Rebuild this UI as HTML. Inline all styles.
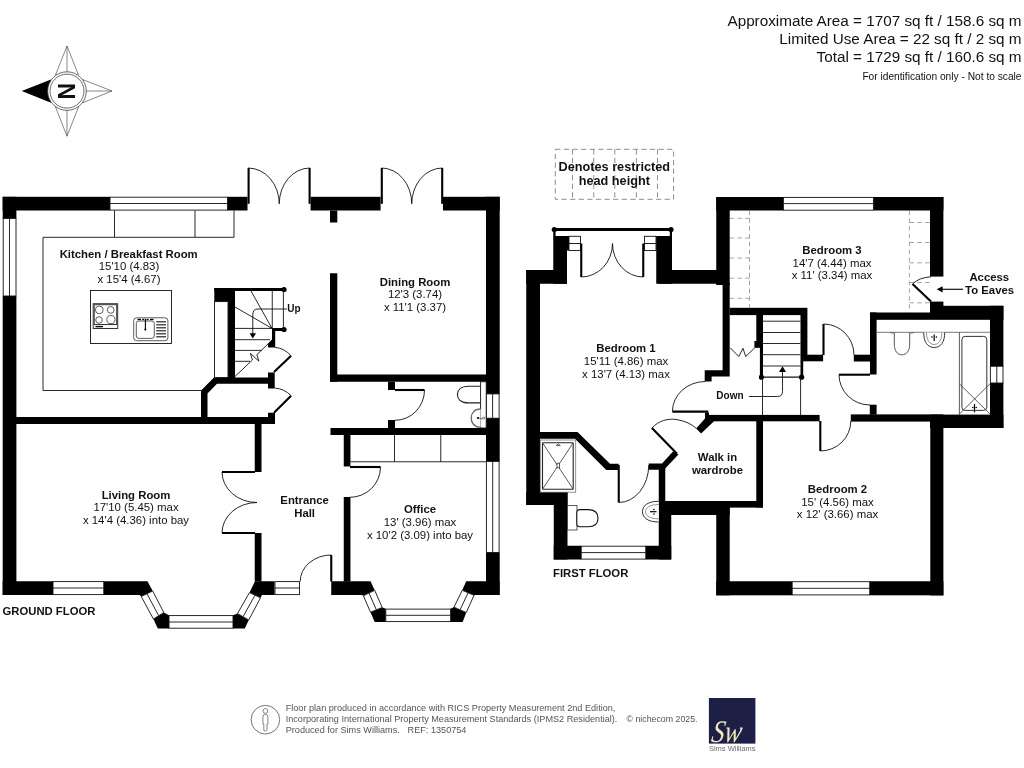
<!DOCTYPE html>
<html lang="en">
<head>
<meta charset="utf-8">
<title>Floor plan</title>
<style>
html,body{margin:0;padding:0;background:#fff;}
body{width:1024px;height:768px;overflow:hidden;position:relative;font-family:"Liberation Sans",sans-serif;}
svg{position:absolute;left:0;top:0;display:block;will-change:transform;}
svg text{font-family:"Liberation Sans",sans-serif;fill:#111;}
.w{fill:#000;stroke:none;}
.t{fill:none;stroke:#111;stroke-width:0.9;}
.tw{fill:#fff;stroke:#111;stroke-width:0.9;}
.lf{fill:none;stroke:#000;stroke-width:2.1;}
.d{fill:none;stroke:#808080;stroke-width:0.9;stroke-dasharray:5.2 3.4;}
.fx{fill:#fff;stroke:#333;stroke-width:0.8;}
.fn{fill:none;stroke:#333;stroke-width:0.8;}
.b{font-weight:bold;font-size:11.35px;text-anchor:middle;}
.r{font-size:11.42px;text-anchor:middle;fill:#111;}
</style>
</head>
<body>
<svg width="1024" height="768" viewBox="0 0 1024 768">
<rect x="0" y="0" width="1024" height="768" fill="#fff"/>

<!-- HEADER -->
<g id="header" font-size="15.27" text-anchor="end">
<text x="1021.5" y="25.6">Approximate Area = 1707 sq ft / 158.6 sq m</text>
<text x="1021.5" y="43.7">Limited Use Area = 22 sq ft / 2 sq m</text>
<text x="1021.5" y="61.6">Total = 1729 sq ft / 160.6 sq m</text>
<text x="1021.5" y="79.8" font-size="10.2">For identification only - Not to scale</text>
</g>

<!-- COMPASS -->
<g id="compass">
<g fill="#fff" stroke="#555" stroke-width="0.7">
<polygon points="67,46 55.5,75 78.5,75"/>
<polygon points="67,136.2 55.5,107 78.5,107"/>
<polygon points="112,91 83,79.7 83,102.6"/>
<line x1="67" y1="46" x2="67" y2="75"/>
<line x1="67" y1="136.2" x2="67" y2="107"/>
<line x1="112" y1="91" x2="83" y2="91"/>
</g>
<polygon points="21.7,91 51,79.5 51,102.8" fill="#000"/>
<circle cx="67" cy="91.1" r="19.3" fill="#fff" stroke="#444" stroke-width="0.8"/>
<circle cx="67" cy="91.1" r="17" fill="#fff" stroke="#444" stroke-width="0.8"/>
<text transform="translate(75.2,91.2) rotate(-90)" font-size="23" font-weight="bold" text-anchor="middle" fill="#000">N</text>
</g>

<!-- GROUND FLOOR -->
<g id="ground">
<!-- outer walls -->
<g class="w">
<rect x="2.7" y="196.8" width="107.3" height="13.7"/>
<rect x="227.5" y="196.8" width="20" height="13.7"/>
<rect x="310.6" y="196.8" width="70" height="13.7"/>
<rect x="443" y="196.8" width="56.7" height="13.7"/>
<rect x="2.7" y="196.8" width="13.7" height="21.8"/>
<rect x="2.7" y="296" width="13.7" height="299"/>
<rect x="486" y="196.8" width="13.7" height="197.2"/>
<rect x="486" y="418" width="13.7" height="43.5"/>
<rect x="486" y="552.4" width="13.7" height="42.6"/>
<rect x="2.7" y="581.25" width="50.3" height="13.75"/>
<polygon points="103.75,581.25 147.5,581.25 152.7,591 141.25,596.5 139.7,595 103.75,595"/>
<polygon points="153.4,619 163.8,612.5 169,615.3 169,628.6 157.8,628.6"/>
<polygon points="233,615.3 237.5,613.5 248.75,620 244.8,628.6 233,628.6"/>
<polygon points="255,581.25 274.5,581.25 274.5,595 262,595 260.5,597.8 249.5,592.6"/>
<!-- living right wall -->
<rect x="254.75" y="424" width="6.75" height="48"/>
<rect x="254.75" y="533" width="6.75" height="48.5"/>
<!-- horizontal internal wall -->
<rect x="16" y="417" width="259" height="7"/>
<rect x="268" y="412.75" width="7" height="11.25"/>
<!-- cupboard / understairs -->
<polygon points="201,417 201,390.5 214,377.5 268,377.5 268,372.5 274.7,372.5 274.7,388.4 268,388.4 268,383.75 217,383.75 207.5,393.5 207.5,417"/>
<!-- stairs walls -->
<rect x="214.3" y="288" width="20.7" height="13.6"/>
<rect x="228" y="288" width="7" height="90"/>
<rect x="214.3" y="288" width="69.7" height="3"/>
<circle cx="284" cy="289.5" r="2.6"/>
<circle cx="284" cy="329.5" r="2.6"/>
<rect x="272" y="328" width="12" height="3"/>
<polygon points="272,328 275.2,328 275.2,347.5 268,347.5 268,344 272,339.5"/>
<!-- dining walls -->
<rect x="330" y="210.5" width="7.3" height="12"/>
<rect x="330" y="273.25" width="7.3" height="108.5"/>
<rect x="330" y="374.5" width="156" height="7.25"/>
<!-- wc -->
<rect x="388" y="381.75" width="7" height="8.25"/>
<rect x="388" y="420" width="7" height="8"/>
<rect x="330.5" y="428" width="155.5" height="7"/>
<!-- office left wall -->
<rect x="343.75" y="435" width="6.7" height="31.5"/>
<rect x="343.75" y="497" width="6.7" height="84.5"/>
<!-- front wall + office bay -->
<polygon points="331.25,581.25 370.5,581.25 374.7,590.3 363.4,595.8 361.9,595 331.25,595"/>
<polygon points="370.5,612.2 381.9,607.3 385.8,608.75 385.8,621.9 374.7,621.9"/>
<polygon points="450.6,608.75 454,607 466.25,612.5 462.7,621.9 450.6,621.9"/>
<polygon points="466.25,581.25 499.5,581.25 499.5,595 475,595 474,595.5 462.2,590.3"/>
</g>
<!-- windows -->
<g class="tw">
<rect x="110" y="197.2" width="117.5" height="12.9"/><line x1="110" y1="203.5" x2="227.5" y2="203.5"/>
<rect x="3.2" y="218.5" width="12.8" height="77.5"/><line x1="9.5" y1="218.5" x2="9.5" y2="296"/>
<rect x="53" y="581.6" width="50.75" height="13"/><line x1="53" y1="588" x2="103.75" y2="588"/>
<rect x="169" y="615.6" width="64" height="12.6"/><line x1="169" y1="622" x2="233" y2="622"/>
<polygon points="152.7,591 163.8,612.5 153.4,619 141.25,596.5"/><line x1="147" y1="593.7" x2="158.6" y2="615.7"/>
<polygon points="237.5,613.5 249.5,592.6 260.5,597.8 248.75,620"/><line x1="243.1" y1="616.7" x2="255" y2="595.2"/>
<rect x="275" y="581.6" width="24.5" height="13"/><line x1="275" y1="588" x2="299.5" y2="588"/>
<rect x="385.8" y="609.1" width="64.8" height="12.5"/><line x1="385.8" y1="615.3" x2="450.6" y2="615.3"/>
<polygon points="374.7,590.3 382.2,607.5 370.5,612.2 363.4,595.8"/><line x1="369" y1="593" x2="376.4" y2="609.9"/>
<polygon points="454,607.2 462.2,590.3 474,595.3 466.25,612.5"/><line x1="460.1" y1="609.8" x2="468.1" y2="592.8"/>
<rect x="486.4" y="393.9" width="12.7" height="24.3"/><line x1="492.6" y1="393.9" x2="492.6" y2="418.2"/>
<rect x="486.4" y="461.5" width="12.7" height="91"/><line x1="492.7" y1="461.5" x2="492.7" y2="552.4"/>
</g>
<!-- kitchen units -->
<g class="t">
<polyline points="114.5,210.5 114.5,237.3 234,237.3 234,210.5"/>
<line x1="195" y1="210.5" x2="195" y2="237.3"/>
<polyline points="114.5,237.3 43,237.3 43,390.5 201,390.5"/>
<rect x="90.5" y="290.5" width="81" height="53"/>
<rect x="214.5" y="301.6" width="13.5" height="76"/>
</g>
<!-- hob -->
<g class="fn">
<rect x="93.2" y="303.7" width="24.5" height="24.8" stroke-width="1"/>
<rect x="94.2" y="304.7" width="22.5" height="19.8" stroke-width="1"/>
<circle cx="99.3" cy="309.9" r="3.9"/><circle cx="110.7" cy="309.9" r="3.4"/>
<circle cx="99" cy="320" r="3.3"/><circle cx="110.9" cy="319.6" r="4.1"/>
<line x1="95.5" y1="326.6" x2="103" y2="326.6" stroke-width="1.4" stroke="#000"/>
</g>
<!-- sink -->
<g class="fn">
<rect x="133.7" y="317.8" width="34.2" height="22.9" rx="3"/>
<rect x="136.3" y="321" width="18" height="17.4" rx="2.6"/>
<line x1="137.5" y1="319.5" x2="141" y2="319.5" stroke="#000" stroke-width="1.3"/>
<line x1="142.3" y1="319.5" x2="144.2" y2="319.5" stroke="#000" stroke-width="1.3"/>
<line x1="146.6" y1="319.5" x2="148.5" y2="319.5" stroke="#000" stroke-width="1.3"/>
<line x1="150" y1="319.5" x2="153.5" y2="319.5" stroke="#000" stroke-width="1.3"/>
<line x1="145.4" y1="318.7" x2="145.4" y2="329.5" stroke="#000" stroke-width="1.1"/>
<circle cx="145.4" cy="329.6" r="1.1" fill="#000" stroke="none"/>
<g stroke="#222" stroke-width="1.2">
<line x1="156.2" y1="321.8" x2="166" y2="321.8"/><line x1="156.2" y1="324.8" x2="166" y2="324.8"/>
<line x1="156.2" y1="327.8" x2="166" y2="327.8"/><line x1="156.2" y1="330.8" x2="166" y2="330.8"/>
<line x1="156.2" y1="333.8" x2="166" y2="333.8"/><line x1="156.2" y1="336.8" x2="166" y2="336.8"/>
</g>
</g>
<!-- stairs -->
<g class="t">
<line x1="272.25" y1="291" x2="272.25" y2="328.5"/>
<line x1="283.4" y1="289.5" x2="283.4" y2="329.5"/>
<line x1="235" y1="328.4" x2="272" y2="328.4"/>
<line x1="235" y1="339.7" x2="270" y2="339.7"/>
<line x1="235" y1="350.4" x2="262" y2="350.4"/>
<line x1="235" y1="361.3" x2="250" y2="361.3"/>
<line x1="272" y1="328.4" x2="235" y2="307"/>
<line x1="272" y1="328.4" x2="251" y2="291"/>
<polyline points="235,376.5 252.4,360 250.4,353.4 258.9,361.2 256.9,354.7 272,340"/>
<path d="M287,309 H258 Q252.8,309 252.8,314.5 V334"/>
</g>
<polygon points="249.6,333.2 256,333.2 252.8,338.6" fill="#000"/>
<!-- doors -->
<g class="t">
<!-- french doors kitchen -->
<line x1="248.6" y1="168" x2="248.6" y2="203.8" class="lf"/><line x1="309.6" y1="168" x2="309.6" y2="203.8" class="lf"/>
<path d="M248,168 A31.25,35.8 0 0 1 279.25,203.8"/><path d="M310,168 A30.75,35.8 0 0 0 279.25,203.8"/>
<!-- french doors dining -->
<line x1="381.8" y1="168" x2="381.8" y2="203.8" class="lf"/><line x1="442.2" y1="168" x2="442.2" y2="203.8" class="lf"/>
<path d="M381.5,168 A30.25,35.8 0 0 1 411.75,203.8"/><path d="M442.5,168 A30.75,35.8 0 0 0 411.75,203.8"/>
<!-- living double doors -->
<line x1="222" y1="472" x2="255" y2="472" class="lf"/><line x1="222" y1="533" x2="255" y2="533" class="lf"/>
<path d="M222,472 A35,30.5 0 0 0 257,502.5"/><path d="M222,533 A35,30.5 0 0 1 257,502.5"/>
<!-- stairs doors -->
<line x1="274" y1="372.1" x2="291.1" y2="355.8" class="lf"/>
<path d="M291.1,355.8 Q284,348 275,347.4"/>
<!-- kitchen door -->
<line x1="274" y1="412.8" x2="291.1" y2="395.7" class="lf"/>
<path d="M291.1,395.7 Q284,388.6 275,388.1"/>
<!-- wc door -->
<line x1="395" y1="390" x2="424.5" y2="390" class="lf"/>
<path d="M424.5,390 A29.5,30.3 0 0 1 395,420.3"/>
<!-- office door -->
<line x1="350" y1="467" x2="380.5" y2="467" class="lf"/>
<path d="M380.5,467 A30.5,30.3 0 0 1 350,497.3"/>
<!-- front door -->
<line x1="331.25" y1="555" x2="331.25" y2="581.5" class="lf"/>
<path d="M331.25,555 A31,26.5 0 0 0 300.2,581.5"/>
<!-- office cupboards -->
<polyline points="350.4,461.75 486,461.75"/>
<line x1="394.5" y1="435" x2="394.5" y2="461.75"/><line x1="440.75" y1="435" x2="440.75" y2="461.75"/>
</g>
<!-- wc fixtures -->
<g class="fx">
<path d="M480.6,386.3 H468.5 C461,386.3 457.4,390 457.4,394.6 C457.4,399.2 461,402.9 468.5,402.9 H480.6" stroke="#222" stroke-width="1.1"/>
<rect x="480.6" y="381.75" width="5.6" height="46.25" stroke="#111" stroke-width="0.9"/>
<path d="M480.6,409 C474.5,409 471.2,413 471.2,418 C471.2,423 474.5,427.3 480.6,427.3" stroke="#666" stroke-width="1.3"/>
<circle cx="478" cy="418" r="1.1" fill="#000" stroke="none"/>
<path d="M478,418 L481.5,418.6 Q484.5,416 485,418 Q484,420 481.5,418.6" fill="none" stroke="#444" stroke-width="0.7"/>
</g>
<!-- labels -->
<text class="b" x="128.7" y="257.6">Kitchen / Breakfast Room</text>
<text class="r" x="129" y="269.9">15'10 (4.83)</text>
<text class="r" x="129" y="282.7">x 15'4 (4.67)</text>
<text class="b" x="415" y="286">Dining Room</text>
<text class="r" x="415" y="298.3">12'3 (3.74)</text>
<text class="r" x="415" y="311">x 11'1 (3.37)</text>
<text class="b" x="136" y="498.7">Living Room</text>
<text class="r" x="136" y="511.3">17'10 (5.45) max</text>
<text class="r" x="136" y="524.3">x 14'4 (4.36) into bay</text>
<text class="b" x="304.6" y="504">Entrance</text>
<text class="b" x="304.6" y="516.6">Hall</text>
<text class="b" x="420" y="512.5">Office</text>
<text class="r" x="420" y="525.5">13' (3.96) max</text>
<text class="r" x="420" y="538.7">x 10'2 (3.09) into bay</text>
<text x="287.3" y="312" font-size="10" font-weight="bold">Up</text>
<text x="2.5" y="615" font-size="11.3" font-weight="bold">GROUND FLOOR</text>
</g>

<!-- FIRST FLOOR -->
<g id="first">
<!-- legend -->
<g class="d">
<rect x="555.3" y="149.3" width="118.3" height="50"/>
<line x1="572.5" y1="149.3" x2="572.5" y2="199.3"/><line x1="593.75" y1="149.3" x2="593.75" y2="199.3"/>
<line x1="614.8" y1="149.3" x2="614.8" y2="199.3"/><line x1="636.4" y1="149.3" x2="636.4" y2="199.3"/>
<line x1="657.5" y1="149.3" x2="657.5" y2="199.3"/>
</g>
<text x="614.3" y="170.8" font-size="12.7" font-weight="bold" text-anchor="middle">Denotes restricted</text>
<text x="614.3" y="184.6" font-size="12.7" font-weight="bold" text-anchor="middle">head height</text>
<!-- restricted head height zones in bed 3 -->
<g class="d" style="stroke:#9a9a9a;stroke-dasharray:4.6 3.2">
<line x1="749.5" y1="210.5" x2="749.5" y2="307.5"/>
<line x1="729.7" y1="218.3" x2="749.5" y2="218.3"/><line x1="729.7" y1="238" x2="749.5" y2="238"/>
<line x1="729.7" y1="258" x2="749.5" y2="258"/><line x1="729.7" y1="278.2" x2="749.5" y2="278.2"/>
<line x1="729.7" y1="298.3" x2="749.5" y2="298.3"/>
<line x1="909.4" y1="210.5" x2="909.4" y2="312.5"/>
<line x1="909.4" y1="222.5" x2="930" y2="222.5"/><line x1="909.4" y1="242.5" x2="930" y2="242.5"/>
<line x1="909.4" y1="262.8" x2="930" y2="262.8"/><line x1="909.4" y1="282.5" x2="930" y2="282.5"/>
<line x1="909.4" y1="302.8" x2="930" y2="302.8"/>
</g>
<g class="w">
<!-- bed1 left outer wall -->
<rect x="526.25" y="270" width="13.75" height="235"/>
<rect x="526.25" y="270" width="40.75" height="13.75"/>
<rect x="553.25" y="236" width="13.75" height="47.75"/>
<rect x="567" y="236" width="2" height="14.5"/>
<rect x="656.25" y="236" width="15.75" height="47.75"/>
<rect x="654.5" y="236" width="2" height="14.5"/>
<rect x="658" y="270" width="64" height="13.75"/>
<rect x="553.25" y="229.5" width="2.3" height="7"/><rect x="669.8" y="229.5" width="2.2" height="7"/>
<!-- juliet rail -->
<rect x="553.75" y="228" width="117.5" height="3"/>
<circle cx="554.3" cy="229.5" r="2.6"/><circle cx="671" cy="229.5" r="2.6"/>
<!-- bed3 -->
<rect x="716.25" y="197" width="67.2" height="13.5"/>
<rect x="873.4" y="197" width="70" height="13.5"/>
<rect x="716.25" y="197" width="13.45" height="88"/>
<polygon points="722.6,283 729.7,283 729.7,376.6 711.6,376.6 711.6,381.5 704.7,381.5 704.7,370.2 722.6,370.2"/>
<rect x="930" y="197" width="13.4" height="79.6"/>
<rect x="930" y="301.6" width="13.4" height="11"/>
<rect x="729.7" y="307.8" width="77.7" height="7.3"/>
<!-- stairs walls -->
<rect x="756.3" y="315" width="6.7" height="32.8"/>
<rect x="754.4" y="341" width="3" height="6.8"/>
<rect x="759.9" y="347" width="3.1" height="30.5"/>
<rect x="800.5" y="315" width="6.9" height="46.3"/>
<rect x="800.5" y="361" width="2.7" height="16.5"/>
<rect x="807" y="354.7" width="16.1" height="6.6"/>
<circle cx="761.5" cy="377.2" r="2.6"/><circle cx="801.6" cy="377.2" r="2.6"/>
<!-- bathroom -->
<rect x="853.8" y="354.7" width="16.5" height="6.8"/>
<rect x="870" y="312.5" width="6.6" height="62"/>
<rect x="870" y="312.5" width="60" height="7.3"/>
<rect x="930" y="305.8" width="73.4" height="14"/>
<rect x="990" y="305.8" width="13.4" height="60.5"/>
<rect x="990" y="383" width="13.4" height="45"/>
<rect x="930" y="414.6" width="73.4" height="13.4"/>
<rect x="850.8" y="414.4" width="79.7" height="7.2"/>
<rect x="869.8" y="404.7" width="6.8" height="10"/>
<!-- landing bottom wall -->
<rect x="708.3" y="414.9" width="111.3" height="6.4"/>
<polygon points="705,412.6 709,412.6 709,415 714,421.3 701.1,433.6 696.2,428.5 705,418.4"/>
<!-- bed2 -->
<rect x="930.3" y="414.4" width="13.1" height="181"/>
<rect x="716.25" y="581.25" width="76" height="14.05"/>
<rect x="869.7" y="581.25" width="73.7" height="14.05"/>
<rect x="716.25" y="501" width="13.45" height="94.3"/>
<rect x="756.3" y="421" width="6.7" height="86.5"/>
<rect x="665" y="501" width="98" height="6.6"/>
<rect x="658.75" y="501" width="71" height="14"/>
<rect x="658.75" y="465" width="6.5" height="37"/>
<!-- ensuite -->
<rect x="658.75" y="501" width="12.5" height="58.5"/>
<rect x="553.75" y="545.75" width="27.5" height="13.75"/>
<rect x="645.75" y="545.75" width="25.5" height="13.75"/>
<rect x="553.75" y="492" width="13.75" height="67.5"/>
<rect x="526.25" y="492" width="41.25" height="13"/>
<polygon points="540,432 577.5,432 610,463.75 618.75,463.75 618.75,470 606.25,470 575,438.75 540,438.75"/>
<polygon points="648.75,463.4 662,463.4 673,451.4 678.4,454.6 665.2,468.5 665.2,469.8 648.75,469.8"/>
</g>
<!-- windows -->
<g class="tw">
<rect x="783.4" y="197.4" width="90" height="12.8"/><line x1="783.4" y1="203.6" x2="873.4" y2="203.6"/>
<rect x="792.2" y="581.7" width="77.5" height="13.2"/><line x1="792.2" y1="588.3" x2="869.7" y2="588.3"/>
<rect x="581.25" y="546.2" width="64.5" height="12.9"/><line x1="581.25" y1="552.6" x2="645.75" y2="552.6"/>
<rect x="990.4" y="366.3" width="12.6" height="16.7"/><line x1="996.8" y1="366.3" x2="996.8" y2="383"/>
<rect x="569" y="236.3" width="11.5" height="7.2"/><rect x="569" y="243.5" width="11.5" height="7"/>
<rect x="644.5" y="236.3" width="11.5" height="7.2"/><rect x="644.5" y="243.5" width="11.5" height="7"/>
</g>
<g class="t">
<!-- bed1 french doors -->
<line x1="581.25" y1="243.5" x2="581.25" y2="277" class="lf"/><line x1="643.25" y1="243.5" x2="643.25" y2="277" class="lf"/>
<path d="M581.25,277 A31.25,33.5 0 0 0 612.5,243.5"/><path d="M643.25,277 A30.75,33.5 0 0 1 612.5,243.5"/>
<!-- stairs -->
<line x1="762.7" y1="321.2" x2="800.4" y2="321.2"/><line x1="762.7" y1="332.5" x2="800.4" y2="332.5"/>
<line x1="762.7" y1="343.5" x2="800.4" y2="343.5"/><line x1="762.7" y1="354.7" x2="800.4" y2="354.7"/>
<line x1="762.7" y1="366" x2="800.4" y2="366"/><line x1="762.7" y1="377.2" x2="800.4" y2="377.2" stroke-width="1.3"/>
<line x1="762.5" y1="377.5" x2="762.5" y2="415"/><line x1="800.6" y1="377.5" x2="800.6" y2="415"/>
<path d="M748.9,396.5 H777.5 Q782.5,396.5 782.5,391.5 V371"/>
<!-- bifold cupboard -->
<polyline points="730.2,347.8 738.8,356.5 743,348.3 745.7,356.5 754.8,347.8"/>
<!-- bed3 door -->
<line x1="823.5" y1="324" x2="823.5" y2="355" class="lf"/>
<path d="M823.5,324 A30.5,31 0 0 1 854,355"/>
<!-- bathroom door -->
<line x1="839" y1="374.7" x2="870" y2="374.7" class="lf"/>
<path d="M839,374.7 A31,30.3 0 0 0 870,405"/>
<!-- bed2 door -->
<line x1="820.3" y1="421" x2="820.3" y2="451" class="lf"/>
<path d="M820.3,451 A30.5,30 0 0 0 850.8,421"/>
<!-- bed1 door -->
<line x1="672.4" y1="411.6" x2="708.3" y2="411.6" class="lf"/>
<path d="M672.4,411.4 A33,30 0 0 1 705.2,381.5"/>
<!-- wardrobe door -->
<line x1="651.9" y1="428" x2="677" y2="453.75" class="lf"/>
<path d="M651.9,428 C659,420.5 668,418.2 677,419.6 C685,421 692,424.2 696.6,428.6"/>
<!-- ensuite door -->
<line x1="618.75" y1="465" x2="618.75" y2="502.5" class="lf"/>
<path d="M618.75,502.5 A30,37.5 0 0 0 648.75,465"/>
<!-- eaves door -->
<line x1="931" y1="301.6" x2="912.5" y2="284" class="lf"/>
<path d="M912.5,284 Q919,277.5 931,276.8"/>
<line x1="938" y1="289.3" x2="963" y2="289.3" stroke-width="1.2"/>
</g>
<polygon points="779,372 786,372 782.5,366.3" fill="#000"/>
<polygon points="936.8,289.3 942.6,286.2 942.6,292.4" fill="#000"/>
<!-- shower ensuite -->
<g class="fn">
<rect x="540.3" y="440" width="35.4" height="52.2" stroke="#777"/>
<rect x="542.5" y="442.8" width="30.7" height="46.4" rx="0.8" stroke="#222" stroke-width="1.1"/>
<line x1="542.5" y1="442.8" x2="573.2" y2="489.2"/><line x1="573.2" y1="442.8" x2="542.5" y2="489.2"/>
<rect x="557" y="463.2" width="2.6" height="4.6" fill="#fff"/>
<path d="M556.3,445.6 L558.3,443.8 L560.3,445.6 Z" fill="#fff"/>
</g>
<!-- ensuite wc -->
<g class="fx">
<rect x="567.5" y="505.5" width="9.5" height="24.5"/>
<path d="M580,509.6 H588 C594.5,509.6 598,513 598,518.2 C598,523.4 594.5,526.8 588,526.8 H580 Q576.8,526.8 576.8,523.8 V512.6 Q576.8,509.6 580,509.6 Z" stroke="#111" stroke-width="1.1"/>
<path d="M658.75,501.3 C648,501.3 642.5,505.5 642.5,511.7 C642.5,517.8 648,522 658.75,522" stroke="#333" stroke-width="1"/>
<path d="M658.75,504.5 C650,504.5 645.5,507.5 645.5,511.7 C645.5,515.8 650,518.8 658.75,518.8" fill="none" stroke="#666" stroke-width="0.7"/>
<line x1="650" y1="511.7" x2="656.5" y2="511.7" stroke="#000" stroke-width="1.2"/>
<circle cx="654" cy="509.5" r="0.8" fill="#000" stroke="none"/><circle cx="654" cy="514" r="0.8" fill="#000" stroke="none"/>
</g>
<!-- bathroom fixtures -->
<g class="fx">
<line x1="876.6" y1="332.3" x2="990" y2="332.3" stroke="#555"/>
<line x1="959.4" y1="332.3" x2="959.4" y2="414.6"/>
<path d="M889.8,332.6 Q902,335.5 914,332.6" fill="none" stroke="#555"/>
<path d="M894.3,333 V344 C894.3,351 897.5,354.8 902,354.8 C906.5,354.8 909.7,351 909.7,344 V333" stroke="#444" stroke-width="0.9"/>
<path d="M923.7,332.4 C923.7,342 927.5,347.5 934.2,347.5 C940.9,347.5 944.7,342 944.7,332.4" stroke="#333" stroke-width="1"/>
<path d="M926.5,332.4 C926.5,340 929.5,344.5 934.2,344.5 C938.9,344.5 941.9,340 941.9,332.4" fill="none" stroke="#666" stroke-width="0.7"/>
<line x1="934.2" y1="334.5" x2="934.2" y2="341" stroke="#000" stroke-width="1.2"/>
<circle cx="932" cy="337" r="0.8" fill="#000" stroke="none"/><circle cx="936.4" cy="337" r="0.8" fill="#000" stroke="none"/>
<rect x="961.9" y="336.4" width="24.9" height="74" rx="3.2" stroke-width="1"/>
<line x1="959.4" y1="383.8" x2="990" y2="414"/><line x1="990" y1="383.8" x2="959.4" y2="414"/>
<line x1="974.5" y1="404" x2="974.5" y2="412.4" stroke="#000" stroke-width="1.2"/>
<circle cx="972.8" cy="407.5" r="0.8" fill="#000" stroke="none"/><circle cx="976.2" cy="407.5" r="0.8" fill="#000" stroke="none"/>
</g>
<!-- labels -->
<text class="b" x="832" y="253.8">Bedroom 3</text>
<text class="r" x="832" y="266.7">14'7 (4.44) max</text>
<text class="r" x="832" y="279.1">x 11' (3.34) max</text>
<text class="b" x="626" y="352.4">Bedroom 1</text>
<text class="r" x="626" y="364.6">15'11 (4.86) max</text>
<text class="r" x="626" y="377.5">x 13'7 (4.13) max</text>
<text class="b" x="837.5" y="493">Bedroom 2</text>
<text class="r" x="837.5" y="505.6">15' (4.56) max</text>
<text class="r" x="837.5" y="518">x 12' (3.66) max</text>
<text class="b" x="717.5" y="460.8">Walk in</text>
<text class="b" x="717.5" y="473.8">wardrobe</text>
<text class="b" x="989.3" y="281">Access</text>
<text class="b" x="989.6" y="293.7">To Eaves</text>
<text x="716.3" y="399" font-size="10" font-weight="bold">Down</text>
<text x="553" y="576.8" font-size="11.3" font-weight="bold">FIRST FLOOR</text>
</g>

<!-- FOOTER -->
<g id="footer">
<circle cx="265.4" cy="719.7" r="14.3" fill="none" stroke="#666" stroke-width="0.9"/>
<circle cx="265.4" cy="710.9" r="2.4" fill="none" stroke="#666" stroke-width="0.8"/>
<path d="M262.9,717 Q262.9,714.2 265.4,714.2 Q267.9,714.2 267.9,717 V724 H267 V730 Q267,731 265.4,731 Q263.8,731 263.8,730 V724 H262.9 Z" fill="none" stroke="#666" stroke-width="0.8"/>
<g font-size="9.15" style="fill:#555">
<text x="285.7" y="710.8" style="fill:#555">Floor plan produced in accordance with RICS Property Measurement 2nd Edition,</text>
<text x="285.7" y="722.4" style="fill:#555">Incorporating International Property Measurement Standards (IPMS2 Residential).</text>
<text x="285.7" y="733.3" style="fill:#555">Produced for Sims Williams.</text>
<text x="407.6" y="733.3" style="fill:#555">REF: 1350754</text>
<text x="626.5" y="722.4" font-size="8.8" style="fill:#555">© nichecom 2025.</text>
</g>
<rect x="708.9" y="698" width="46.5" height="45.6" fill="#1d1f47"/>
<text transform="translate(710.5,742) skewX(-10)" x="0" y="0" font-style="italic" font-size="31.5" textLength="30" lengthAdjust="spacingAndGlyphs" style="fill:#efe7b4;font-family:'Liberation Serif',serif">Sw</text>
<text x="732.3" y="750.6" font-size="7.5" text-anchor="middle" style="fill:#6a6a70">Sims Williams</text>
</g>
</svg>
</body>
</html>
